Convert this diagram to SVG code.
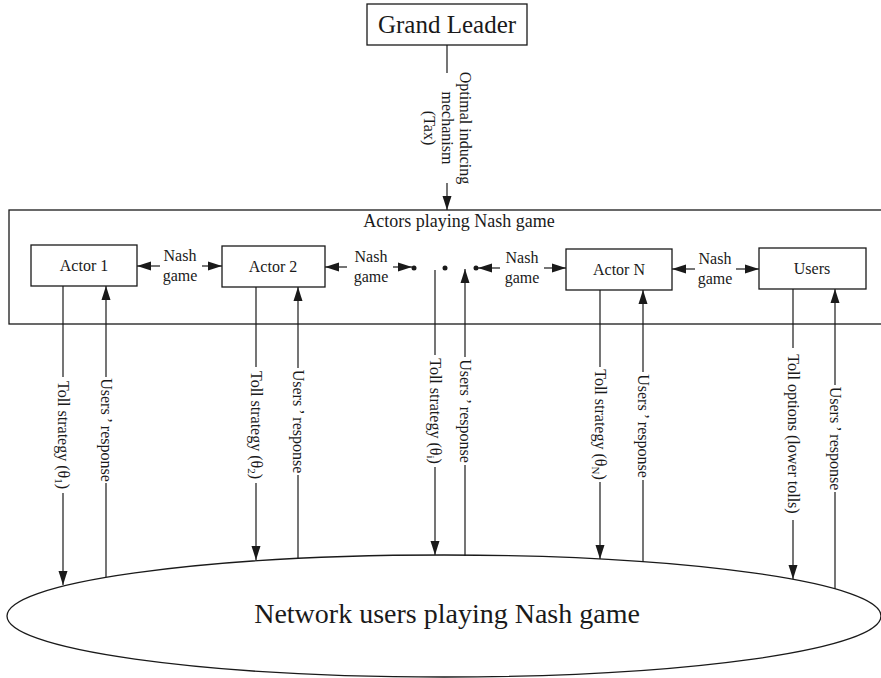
<svg xmlns="http://www.w3.org/2000/svg" width="881" height="678" viewBox="0 0 881 678">
<defs>
<style>
.box{fill:#fff;stroke:#1a1a1a;stroke-width:1.3}
.ln{fill:none;stroke:#1a1a1a;stroke-width:1.2}
.t{font-family:"Liberation Serif","Times New Roman",serif;fill:#1a1a1a}
.lb{font-size:16px;text-anchor:middle}
.dot{fill:#1a1a1a}
</style>
<marker id="ah" viewBox="0 0 14 10" refX="14" refY="5" markerWidth="14" markerHeight="10" orient="auto-start-reverse" markerUnits="userSpaceOnUse">
<path d="M0,0.5 L14,5 L0,9.5 z" fill="#1a1a1a"/>
</marker>
</defs>
<rect width="881" height="678" fill="#fff"/>

<g id="outer">
<rect class="box" x="9" y="210" width="900" height="114"/>
<text class="t" x="459" y="227" font-size="18" text-anchor="middle">Actors playing Nash game</text>
</g>

<g id="network">
<ellipse class="box" cx="444" cy="616" rx="437" ry="61"/>
<text class="t" x="447" y="623" font-size="28" text-anchor="middle">Network users playing Nash game</text>
</g>

<g id="grand-leader">
<rect class="box" x="367" y="4" width="160" height="41"/>
<text class="t" x="447" y="33" font-size="25" text-anchor="middle">Grand Leader</text>
</g>

<g id="actor1">
<rect class="box" x="31" y="245" width="106" height="41"/>
<text class="t lb" x="84" y="271">Actor 1</text>
</g>
<g id="actor2">
<rect class="box" x="222" y="246" width="103" height="41"/>
<text class="t lb" x="273" y="272">Actor 2</text>
</g>
<g id="actorN">
<rect class="box" x="566" y="249" width="106" height="41"/>
<text class="t lb" x="619" y="275">Actor N</text>
</g>
<g id="users">
<rect class="box" x="759" y="248" width="107" height="41"/>
<text class="t lb" x="812" y="274">Users</text>
</g>

<g id="dots">
<circle class="dot" cx="414" cy="268" r="2.5"/>
<circle class="dot" cx="445" cy="268" r="2.5"/>
<circle class="dot" cx="476" cy="268" r="2.5"/>
</g>

<g id="connectors">
<line class="ln" x1="447" y1="45" x2="447" y2="73"/>
<line class="ln" x1="447" y1="183" x2="447" y2="210" marker-end="url(#ah)"/>
<g transform="translate(447,128) rotate(90)" class="t lb">
<text x="0" y="-13">Optimal inducing</text>
<text x="0" y="5">mechanism</text>
<text x="0" y="23">(Tax)</text>
</g>

<line class="ln" x1="160" y1="266" x2="137" y2="266" marker-end="url(#ah)"/>
<line class="ln" x1="202" y1="266" x2="222" y2="266" marker-end="url(#ah)"/>
<text class="t lb" x="180" y="261">Nash</text>
<text class="t lb" x="180" y="281">game</text>

<line class="ln" x1="347" y1="267" x2="325" y2="267" marker-end="url(#ah)"/>
<line class="ln" x1="393" y1="267" x2="412" y2="267" marker-end="url(#ah)"/>
<text class="t lb" x="371" y="262">Nash</text>
<text class="t lb" x="371" y="282">game</text>

<line class="ln" x1="500" y1="268" x2="478" y2="268" marker-end="url(#ah)"/>
<line class="ln" x1="544" y1="268" x2="566" y2="268" marker-end="url(#ah)"/>
<text class="t lb" x="522" y="263">Nash</text>
<text class="t lb" x="522" y="283">game</text>

<line class="ln" x1="695" y1="269" x2="672" y2="269" marker-end="url(#ah)"/>
<line class="ln" x1="736" y1="269" x2="759" y2="269" marker-end="url(#ah)"/>
<text class="t lb" x="715" y="264">Nash</text>
<text class="t lb" x="715" y="284">game</text>

<line class="ln" x1="63" y1="286" x2="63" y2="377"/>
<line class="ln" x1="63" y1="493" x2="63" y2="585" marker-end="url(#ah)"/>
<text class="t lb" transform="translate(63,435) rotate(90)" x="0" y="5">Toll strategy (θ<tspan font-size="11" dy="3">1</tspan><tspan dy="-3">)</tspan></text>
<line class="ln" x1="106" y1="577" x2="106" y2="483"/>
<line class="ln" x1="106" y1="377" x2="106" y2="286" marker-end="url(#ah)"/>
<text class="t lb" transform="translate(106,430) rotate(90)" x="0" y="5">Users<tspan dx="3">’</tspan> response</text>

<line class="ln" x1="256" y1="287" x2="256" y2="367"/>
<line class="ln" x1="256" y1="483" x2="256" y2="560" marker-end="url(#ah)"/>
<text class="t lb" transform="translate(256,425) rotate(90)" x="0" y="5">Toll strategy (θ<tspan font-size="11" dy="3">2</tspan><tspan dy="-3">)</tspan></text>
<line class="ln" x1="298" y1="558" x2="298" y2="475"/>
<line class="ln" x1="298" y1="368" x2="298" y2="287" marker-end="url(#ah)"/>
<text class="t lb" transform="translate(298,421.5) rotate(90)" x="0" y="5">Users<tspan dx="3">’</tspan> response</text>

<line class="ln" x1="435" y1="270" x2="435" y2="355"/>
<line class="ln" x1="435" y1="467" x2="435" y2="555" marker-end="url(#ah)"/>
<text class="t lb" transform="translate(435,411) rotate(90)" x="0" y="5">Toll strategy (θ<tspan font-size="11" dy="3">i</tspan><tspan dy="-3">)</tspan></text>
<line class="ln" x1="465" y1="556" x2="465" y2="465"/>
<line class="ln" x1="465" y1="357" x2="465" y2="269" marker-end="url(#ah)"/>
<text class="t lb" transform="translate(465,411) rotate(90)" x="0" y="5">Users<tspan dx="3">’</tspan> response</text>

<line class="ln" x1="600" y1="290" x2="600" y2="367"/>
<line class="ln" x1="600" y1="482" x2="600" y2="559" marker-end="url(#ah)"/>
<text class="t lb" transform="translate(600,424.5) rotate(90)" x="0" y="5">Toll strategy (θ<tspan font-size="11" dy="3">N</tspan><tspan dy="-3">)</tspan></text>
<line class="ln" x1="643" y1="562" x2="643" y2="480"/>
<line class="ln" x1="643" y1="372" x2="643" y2="290" marker-end="url(#ah)"/>
<text class="t lb" transform="translate(643,426) rotate(90)" x="0" y="5">Users<tspan dx="3">’</tspan> response</text>

<line class="ln" x1="793" y1="289" x2="793" y2="348"/>
<line class="ln" x1="793" y1="520" x2="793" y2="579" marker-end="url(#ah)"/>
<text class="t lb" transform="translate(793,434) rotate(90)" x="0" y="5">Toll options (lower tolls)</text>
<line class="ln" x1="835" y1="589" x2="835" y2="492"/>
<line class="ln" x1="835" y1="385" x2="835" y2="289" marker-end="url(#ah)"/>
<text class="t lb" transform="translate(835,438.5) rotate(90)" x="0" y="5">Users<tspan dx="3">’</tspan> response</text>
</g>
</svg>
